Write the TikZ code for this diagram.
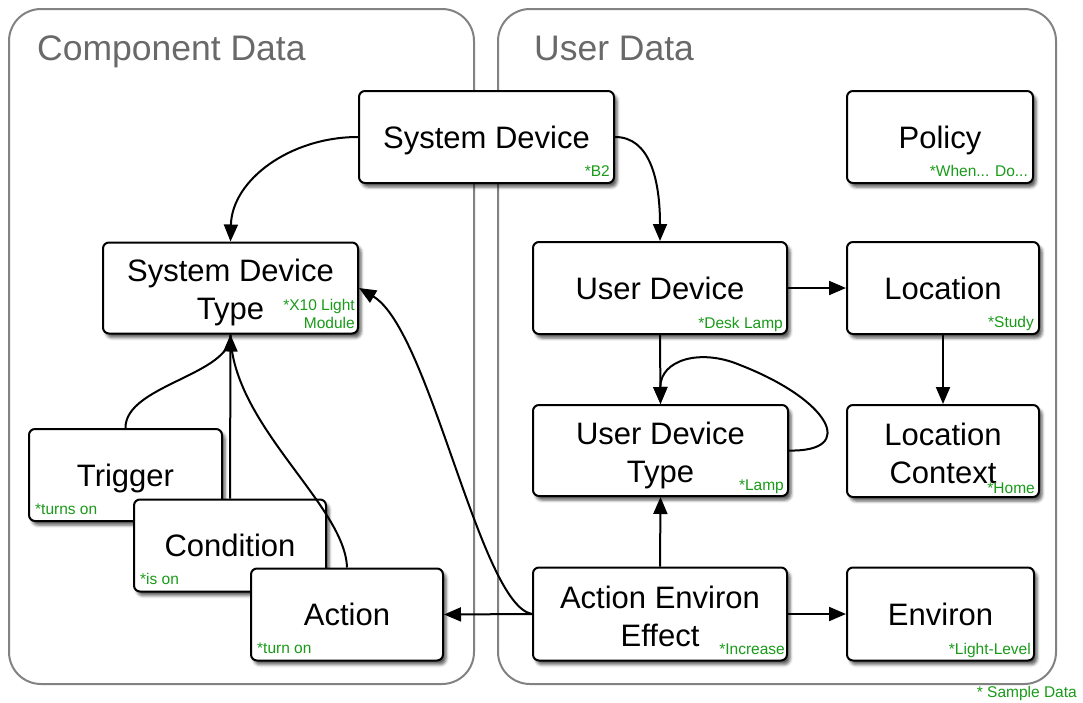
\documentclass[tikz,border=0pt]{standalone}
\usepackage{fontspec}
\setmainfont{Liberation Sans}
\usetikzlibrary{arrows.meta,shadows.blur,calc}
\definecolor{sample}{RGB}{25,155,25}
\definecolor{framegray}{RGB}{130,130,130}
\definecolor{titlegray}{RGB}{105,105,105}

\begin{document}
\begin{tikzpicture}[x=1pt,y=-1pt,
  group/.style={draw=framegray, line width=2pt, rounded corners=32pt, inner sep=0pt},
  grouptitle/.style={text=titlegray, font=\fontsize{35.5}{40}\selectfont, anchor=base west, inner sep=0pt},
  entitytext/.style={align=center, inner sep=0pt, font=\fontsize{31}{38}\selectfont},
  entity/.style={entitytext, draw=black, line width=2pt, rounded corners=6pt, fill=white,
    blur shadow={shadow xshift=3pt, shadow yshift=-4pt, shadow blur radius=3pt, shadow opacity=65}},
  oneline/.style={entity, text height=29pt, text depth=6.5pt},
  sampletext/.style={text=sample, font=\fontsize{15.5}{18}\selectfont, inner sep=0pt},
  conn/.style={line width=2pt, -{Triangle[length=17pt,width=14pt]}},
  link/.style={line width=2pt}
]
\useasboundingbox (0,0) rectangle (1083,702);

% data groups
\node[group, minimum width=465pt, minimum height=675pt] (comp) at (241.5,346.5) {};
\node[group, minimum width=558pt, minimum height=675pt] (user) at (777,346.5) {};
\node[grouptitle] (comptitle) at (37,60) {Component Data};
\node[grouptitle] (usertitle) at (534,60) {User Data};

% entities (two-line names are set as centred labels, nudged down a little)
\node[oneline, minimum width=255pt, minimum height=92pt] (sd) at (486.5,137) {System Device};
\node[oneline, minimum width=186pt, minimum height=92pt] (policy) at (940,137) {Policy};
\node[entity, minimum width=255pt, minimum height=91pt,
  label={[entitytext, yshift=-4.5pt]center:System Device\\Type}] (sdt) at (230.5,288) {};
\node[oneline, minimum width=254pt, minimum height=92pt] (ud) at (660,288) {User Device};
\node[oneline, minimum width=192pt, minimum height=92pt] (loc) at (943,288) {Location};
\node[entity, minimum width=255pt, minimum height=91pt,
  label={[entitytext, yshift=-4.5pt]center:User Device\\Type}] (udt) at (660.5,450.5) {};
\node[entity, minimum width=192pt, minimum height=92pt,
  label={[entitytext, yshift=-2pt]center:Location\\Context}] (lc) at (943,451) {};
\node[oneline, minimum width=193pt, minimum height=92pt] (trig) at (125.5,475) {Trigger};
\node[oneline, minimum width=192pt, minimum height=92pt] (cond) at (230,545.5) {Condition};
\node[oneline, minimum width=192pt, minimum height=92pt] (act) at (347,614.5) {Action};
\node[entity, minimum width=254pt, minimum height=93pt,
  label={[entitytext, yshift=-2pt]center:Action Environ\\Effect}] (aee) at (660,614) {};
\node[oneline, minimum width=187pt, minimum height=93pt] (env) at (940.5,614) {Environ};

% sample values
\node[sampletext, anchor=base east] (sdS) at ($(sd.south east)+(-5,-8)$) {*B2};
\node[sampletext, anchor=base east] (policyS) at ($(policy.south east)+(-6,-8)$) {*When... Do...};
\node[sampletext, anchor=south east, align=right] (sdtS) at ($(sdt.south east)+(-4,-6)$) {*X10 Light\\Module};
\node[sampletext, anchor=base east] (udS) at ($(ud.south east)+(-5,-7)$) {*Desk Lamp};
\node[sampletext, anchor=base east] (locS) at ($(loc.south east)+(-6,-8)$) {*Study};
\node[sampletext, anchor=base east] (udtS) at ($(udt.south east)+(-5,-7)$) {*Lamp};
\node[sampletext, anchor=base east] (lcS) at ($(lc.south east)+(-5,-5)$) {*Home};
\node[sampletext, anchor=base west] (trigS) at ($(trig.south west)+(7,-8)$) {*turns on};
\node[sampletext, anchor=base west] (condS) at ($(cond.south west)+(7,-8)$) {*is on};
\node[sampletext, anchor=base west] (actS) at ($(act.south west)+(7,-8)$) {*turn on};
\node[sampletext, anchor=base east] (aeeS) at ($(aee.south east)+(-3,-7)$) {*Increase};
\node[sampletext, anchor=base east] (envS) at ($(env.south east)+(-4,-7)$) {*Light-Level};
\node[sampletext, anchor=base east] (legend) at (1077,697) {* Sample Data};

% connectors
\draw[conn] (sd.west) .. controls (290,137) and (232,180) .. (sdt.north);
\draw[conn] (sd.east) .. controls (650,137) and (660,180) .. (ud.north);
\draw[conn] (aee.west) .. controls (480,605) and (430,330) .. (sdt.east);
\draw[conn] (aee.west) -- (act.east);
\draw[link] (trig.north) .. controls (125,385) and (232,375) .. (sdt.south);
\draw[link] (act.north) .. controls (345,505) and (232,425) .. (sdt.south);
\draw[conn] (cond.north) -- (sdt.south);
\draw[conn] (ud.south) -- (udt.north);
\draw[conn] (udt.east) .. controls (858,452) and (830,400) .. (740,365)
  .. controls (700,348) and (660,360) .. (udt.north);
\draw[conn] (ud.east) -- (loc.west);
\draw[conn] (loc.south) -- (lc.north);
\draw[conn] (aee.north) -- (udt.south);
\draw[conn] (aee.east) -- (env.west);
\end{tikzpicture}
\end{document}
